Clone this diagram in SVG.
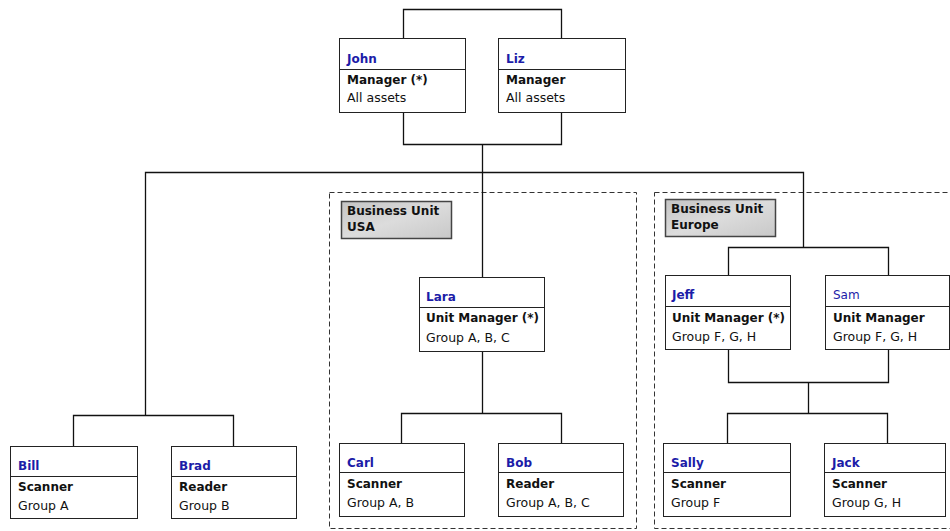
<svg xmlns="http://www.w3.org/2000/svg" width="950" height="531" viewBox="0 0 950 531">
<defs>
<linearGradient id="bug" x1="0" y1="0" x2="1" y2="1">
<stop offset="0" stop-color="#c4c4c4"/>
<stop offset="0.5" stop-color="#dcdcdc"/>
<stop offset="1" stop-color="#c8c8c8"/>
</linearGradient>
</defs>
<style>
.bg{fill:#ffffff}
.region{fill:none;stroke:#333;stroke-width:1;stroke-dasharray:5,3}
.box{fill:#fff;stroke:#222;stroke-width:1}
.div{stroke:#222;stroke-width:1}
.bu{fill:url(#bug);stroke:#444;stroke-width:1.5}
.conn{fill:none;stroke:#111;stroke-width:1.3}
text{font-family:"DejaVu Sans","Liberation Sans",sans-serif;font-size:12.5px;fill:#111}
.name{fill:#1c1ca8;font-weight:bold;font-size:12px}
.namen{fill:#1c1ca8;font-size:12px}
.role{font-weight:bold;font-size:12px}
.butxt{font-weight:bold;fill:#111;font-size:12px}
</style>
<rect class="bg" x="0" y="0" width="950" height="531"/>
<g id="region-usa">
<rect class="region" x="329.5" y="192.5" width="307" height="336"/>
<rect class="bu" x="341.5" y="201.5" width="110" height="37"/>
<text class="butxt" x="347" y="215">Business Unit</text>
<text class="butxt" x="347" y="231">USA</text>
</g>
<g id="region-europe">
<rect class="region" x="654.5" y="192.5" width="310" height="336"/>
<rect class="bu" x="665.5" y="199.5" width="110" height="37"/>
<text class="butxt" x="671" y="213">Business Unit</text>
<text class="butxt" x="671" y="229">Europe</text>
</g>
<g id="connectors">
<path class="conn" d="M403.5 38 V9.5 H561.5 V38"/>
<path class="conn" d="M403.5 112 V144.5 H561.5 V112"/>
<path class="conn" d="M482.5 144.5 V277"/>
<path class="conn" d="M145.5 415.5 V172.5 H803.5 V247.5"/>
<path class="conn" d="M73.5 446 V415.5 H233.5 V446"/>
<path class="conn" d="M482.5 351 V413.5"/>
<path class="conn" d="M401.5 443 V413.5 H561.5 V443"/>
<path class="conn" d="M728.5 275 V247.5 H888.5 V275"/>
<path class="conn" d="M728.5 349 V382.5 H888.5 V349"/>
<path class="conn" d="M808.5 382.5 V413.5"/>
<path class="conn" d="M727.5 443 V413.5 H887.5 V443"/>
</g>
<g id="john">
<rect class="box" x="339.5" y="38.5" width="126" height="74"/>
<line class="div" x1="339.5" y1="69.5" x2="465.5" y2="69.5"/>
<text class="name" x="347" y="63">John</text>
<text class="role" x="347" y="84">Manager (*)</text>
<text x="347" y="102">All assets</text>
</g>
<g id="liz">
<rect class="box" x="498.5" y="38.5" width="127" height="74"/>
<line class="div" x1="498.5" y1="69.5" x2="625.5" y2="69.5"/>
<text class="name" x="506" y="63">Liz</text>
<text class="role" x="506" y="84">Manager</text>
<text x="506" y="102">All assets</text>
</g>
<g id="lara">
<rect class="box" x="419.5" y="277.5" width="125" height="74"/>
<line class="div" x1="419.5" y1="307.5" x2="544.5" y2="307.5"/>
<text class="name" x="426" y="301">Lara</text>
<text class="role" x="426" y="322">Unit Manager (*)</text>
<text x="426" y="342">Group A, B, C</text>
</g>
<g id="jeff">
<rect class="box" x="665.5" y="275.5" width="125" height="74"/>
<line class="div" x1="665.5" y1="306.5" x2="790.5" y2="306.5"/>
<text class="name" x="672" y="299">Jeff</text>
<text class="role" x="672" y="322">Unit Manager (*)</text>
<text x="672" y="341">Group F, G, H</text>
</g>
<g id="sam">
<rect class="box" x="825.5" y="275.5" width="124" height="74"/>
<line class="div" x1="825.5" y1="306.5" x2="949.5" y2="306.5"/>
<text class="namen" x="833" y="299">Sam</text>
<text class="role" x="833" y="322">Unit Manager</text>
<text x="833" y="341">Group F, G, H</text>
</g>
<g id="bill">
<rect class="box" x="10.5" y="446.5" width="127" height="72"/>
<line class="div" x1="10.5" y1="476.5" x2="137.5" y2="476.5"/>
<text class="name" x="18" y="470">Bill</text>
<text class="role" x="18" y="491">Scanner</text>
<text x="18" y="510">Group A</text>
</g>
<g id="brad">
<rect class="box" x="171.5" y="446.5" width="125" height="72"/>
<line class="div" x1="171.5" y1="476.5" x2="296.5" y2="476.5"/>
<text class="name" x="179" y="470">Brad</text>
<text class="role" x="179" y="491">Reader</text>
<text x="179" y="510">Group B</text>
</g>
<g id="carl">
<rect class="box" x="339.5" y="443.5" width="125" height="73"/>
<line class="div" x1="339.5" y1="472.5" x2="464.5" y2="472.5"/>
<text class="name" x="347" y="467">Carl</text>
<text class="role" x="347" y="488">Scanner</text>
<text x="347" y="507">Group A, B</text>
</g>
<g id="bob">
<rect class="box" x="498.5" y="443.5" width="125" height="73"/>
<line class="div" x1="498.5" y1="472.5" x2="623.5" y2="472.5"/>
<text class="name" x="506" y="467">Bob</text>
<text class="role" x="506" y="488">Reader</text>
<text x="506" y="507">Group A, B, C</text>
</g>
<g id="sally">
<rect class="box" x="663.5" y="443.5" width="127" height="73"/>
<line class="div" x1="663.5" y1="472.5" x2="790.5" y2="472.5"/>
<text class="name" x="671" y="467">Sally</text>
<text class="role" x="671" y="488">Scanner</text>
<text x="671" y="507">Group F</text>
</g>
<g id="jack">
<rect class="box" x="824.5" y="443.5" width="121" height="73"/>
<line class="div" x1="824.5" y1="472.5" x2="945.5" y2="472.5"/>
<text class="name" x="832" y="467">Jack</text>
<text class="role" x="832" y="488">Scanner</text>
<text x="832" y="507">Group G, H</text>
</g>
</svg>
